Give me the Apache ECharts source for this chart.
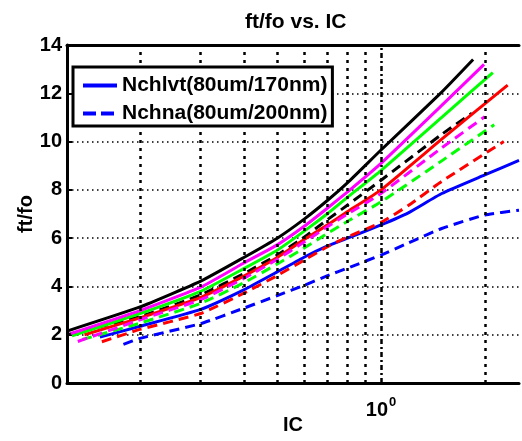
<!DOCTYPE html>
<html><head><meta charset="utf-8">
<script src="https://cdn.jsdelivr.net/npm/echarts@6/dist/echarts.min.js"></script>
<style>html,body{margin:0;padding:0;background:#fff}#c{width:522px;height:441px}</style>
</head><body><div id="c"></div>
<script>
// ---- data ([IC, ft/fo]) ----
const blackSolid   = [[0.1228,2.15],[0.2,3.15],[0.3,4.22],[0.4,5.2],[0.5,6.0],[0.6,6.8],[0.7,7.57],[0.8,8.3],[1.0,9.65],[1.5,12.05],[1.85,13.4]];
const magentaSolid = [[0.126,2.05],[0.2,3.0],[0.3,3.97],[0.4,4.97],[0.5,5.72],[0.6,6.5],[0.7,7.25],[0.8,7.92],[1.0,9.1],[1.5,11.5],[1.99,13.2]];
const greenSolid   = [[0.127,1.95],[0.2,2.88],[0.3,3.8],[0.4,4.74],[0.5,5.5],[0.6,6.3],[0.7,7.02],[0.8,7.7],[1.0,8.8],[1.5,11.0],[2.11,12.86]];
const blackDashed  = [[0.1228,2.0],[0.2,2.75],[0.3,3.65],[0.4,4.53],[0.5,5.3],[0.6,6.05],[0.7,6.77],[0.8,7.37],[1.0,8.4],[1.5,10.3],[1.835,11.17]];
const redSolid     = [[0.138,2.0],[0.2,2.7],[0.3,3.55],[0.4,4.43],[0.5,5.2],[0.6,5.95],[0.7,6.55],[0.8,7.1],[1.0,8.0],[1.5,10.1],[2.33,12.34]];
const magentaDashed= [[0.132,1.72],[0.2,2.62],[0.3,3.45],[0.4,4.33],[0.5,5.12],[0.6,5.85],[0.7,6.48],[0.8,7.0],[1.0,7.85],[1.5,9.74],[2.0,11.03]];
const greenDashed  = [[0.136,1.8],[0.2,2.48],[0.3,3.3],[0.4,4.15],[0.5,4.93],[0.6,5.6],[0.7,6.2],[0.8,6.7],[1.0,7.5],[1.5,9.2],[2.13,10.7]];
const blueSolid    = [[0.153,1.9],[0.2,2.35],[0.3,3.05],[0.4,3.86],[0.5,4.6],[0.6,5.22],[0.7,5.68],[0.8,6.0],[1.0,6.55],[1.2,7.05],[1.5,7.85],[2.0,8.62],[2.513,9.22]];
const redDashed    = [[0.155,1.71],[0.2,2.22],[0.3,2.88],[0.4,3.72],[0.5,4.45],[0.6,5.1],[0.7,5.65],[0.8,6.05],[1.0,6.65],[1.2,7.35],[1.5,8.35],[2.27,10.0]];
const blueDashed   = [[0.179,1.6],[0.2,1.85],[0.3,2.46],[0.4,3.1],[0.5,3.62],[0.6,4.05],[0.7,4.45],[0.8,4.76],[1.0,5.3],[1.2,5.8],[1.5,6.4],[2.0,6.96],[2.513,7.16]];

const legendNames = ['Nchlvt(80um/170nm)', 'Nchna(80um/200nm)'];
const xMinorGrid = [0.2,0.3,0.4,0.5,0.6,0.7,0.8,0.9,2];
const xMajorGrid = [1];
const X_MIN = 0.1228, X_MAX = 2.513;
const Y_MIN = 0, Y_MAX = 14, Y_STEP = 2;

const FONT = 'Liberation Sans, Arial, sans-serif';
const DASH = [10, 6];

function curve(name, data, color, dashed, z) {
  return {
    type: 'line', name: name, data: data, smooth: 0.15,
    symbol: 'none', showSymbol: false, z: z, silent: true,
    lineStyle: { color: color, width: 3, type: dashed ? DASH : 'solid', join: 'round', cap: 'butt' },
    itemStyle: { color: color }
  };
}

const chart = echarts.init(document.getElementById('c'), null, { renderer: 'canvas' });
chart.setOption({
  animation: false,
  backgroundColor: '#fff',
  title: {
    text: 'ft/fo vs. IC', left: 245, top: 12, padding: 0,
    textStyle: { fontFamily: FONT, fontWeight: 'bold', fontSize: 21, color: '#000' }
  },
  legend: {
    data: [
      { name: legendNames[0], lineStyle: { width: 4, type: 'solid' } },
      { name: legendNames[1], lineStyle: { width: 4, type: [13, 5] } }
    ],
    orient: 'vertical', left: 73, top: 67,
    itemWidth: 34, itemHeight: 2, itemGap: 7, padding: [8, 5, 2, 8],
    borderColor: '#000', borderWidth: 3, backgroundColor: '#fff', borderRadius: 0,
    selectedMode: false, z: 10,
    lineStyle: { width: 4 },
    itemStyle: { opacity: 0 },
    textStyle: { fontFamily: FONT, fontWeight: 'bold', fontSize: 21, color: '#000' }
  },
  grid: { left: 67, right: 0, top: 45, bottom: 58, containLabel: false },
  xAxis: [{
    type: 'log', min: X_MIN, max: X_MAX,
    axisLine: { show: true, lineStyle: { color: '#000', width: 3 } },
    axisTick: { show: false },
    splitLine: { show: false },
    axisLabel: {
      margin: 13, color: '#000',
      formatter: function (v) { return Math.abs(v - 1) < 1e-6 ? '{b|10}{s|0}' : ''; },
      rich: {
        b: { fontFamily: FONT, fontWeight: 'bold', fontSize: 20, color: '#000', lineHeight: 24, verticalAlign: 'bottom' },
        s: { fontFamily: FONT, fontWeight: 'bold', fontSize: 13, color: '#000', verticalAlign: 'top', padding: [0, 0, 0, 1] }
      }
    },
    name: 'IC', nameLocation: 'middle', nameGap: 32, nameMoveOverlap: false,
    nameTextStyle: { fontFamily: FONT, fontWeight: 'bold', fontSize: 20, color: '#000' }
  }, {
    type: 'log', min: X_MIN, max: X_MAX, position: 'top',
    axisLine: { show: true, lineStyle: { color: '#000', width: 3 } },
    axisTick: { show: false }, axisLabel: { show: false }, splitLine: { show: false }
  }],
  yAxis: {
    type: 'value', min: Y_MIN, max: Y_MAX, interval: Y_STEP,
    axisLine: { show: true, lineStyle: { color: '#000', width: 3 } },
    axisTick: { show: true, inside: true, length: 5, lineStyle: { color: '#000', width: 2 } },
    axisLabel: { margin: 5, fontFamily: FONT, fontWeight: 'bold', fontSize: 20, color: '#000' },
    splitLine: { show: true, lineStyle: { color: '#000', width: 1.5, type: [1.5, 3.5] } },
    name: 'ft/fo', nameLocation: 'middle', nameGap: 31, nameMoveOverlap: false,
    nameTextStyle: { fontFamily: FONT, fontWeight: 'bold', fontSize: 20, color: '#000' }
  },
  series: [
    {
      type: 'line', name: '_grid', data: [], z: 1, silent: true, symbol: 'none',
      markLine: {
        silent: true, symbol: ['none', 'none'], label: { show: false }, animation: false,
        data: xMinorGrid.map(v => ({ xAxis: v, lineStyle: { color: '#000', width: 2.5, type: [3, 5] } }))
          .concat(xMajorGrid.map(v => ({ xAxis: v, lineStyle: { color: '#000', width: 2.5, type: [5, 3, 2, 3] } })))
      }
    },
    curve(legendNames[0], blueSolid, '#0000ff', false, 3),
    curve(legendNames[1], blueDashed, '#0000ff', true, 3),
    curve('k-', blackSolid, '#000000', false, 3),
    curve('k--', blackDashed, '#000000', true, 3),
    curve('r-', redSolid, '#ff0000', false, 4),
    curve('r--', redDashed, '#ff0000', true, 4),
    curve('g-', greenSolid, '#00ff00', false, 4),
    curve('g--', greenDashed, '#00ff00', true, 4),
    curve('m-', magentaSolid, '#ff00ff', false, 4),
    curve('m--', magentaDashed, '#ff00ff', true, 4)
  ]
});
</script></body></html>
